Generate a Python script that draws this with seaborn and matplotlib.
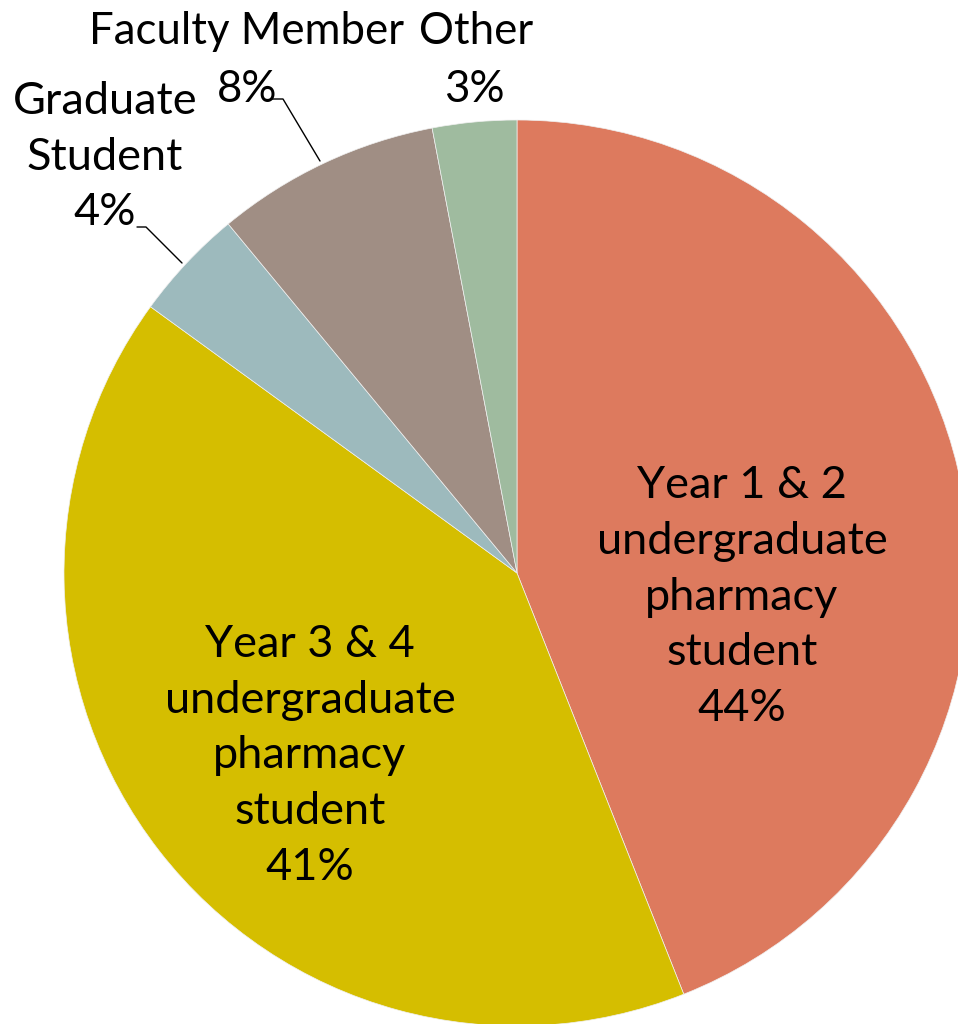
import numpy as np
import seaborn as sns
import matplotlib
matplotlib.use("Agg")
from matplotlib import pyplot as plt

# ---------------- data ----------------
groups = ["Year 1 & 2\nundergraduate\npharmacy\nstudent",
          "Year 3 & 4\nundergraduate\npharmacy\nstudent",
          "Graduate\nStudent",
          "Faculty Member",
          "Other"]
shares = [44, 41, 4, 8, 3]
colors = ["#DD7A5E", "#D5BE00", "#9DBABD", "#A08E84", "#9FBB9F"]

sns.set_theme(style="white")
plt.rcParams['font.family'] = ['Lato', 'DejaVu Sans']

W, H = 958, 1024
fig = plt.figure(figsize=(W / 100, H / 100), dpi=100)
ax = fig.add_axes([0, 0, 1, 1])

def py(y):
    # pixel row (from top) -> data y
    return H - y

cx, cy, r = 517, py(573), 453
ax.pie(shares, colors=colors, startangle=90, counterclock=False,
       center=(cx, cy), radius=r,
       wedgeprops=dict(linewidth=0.5, edgecolor="#f0f0f0"))
ax.set_xlim(0, W)
ax.set_ylim(0, H)
ax.set_aspect("equal")
ax.axis("off")

fs = 32.5
ls = 1.45
lbl = [f"{g}\n{s}%" for g, s in zip(groups, shares)]
kw = dict(ha="center", va="center", fontsize=fs, linespacing=ls, color="black")
ax.text(742, py(597), lbl[0], **kw)
ax.text(310, py(756), lbl[1], **kw)
ax.text(105, py(157), lbl[2], **kw)

# top labels: name and share as separate lines
kw_top = dict(kw, fontsize=31.5)
ax.text(247, py(31), groups[3], **kw_top)
ax.text(247, py(89), f"{shares[3]}%", **kw_top)
ax.text(476, py(31), groups[4], **kw_top)
ax.text(474, py(89), f"{shares[4]}%", **kw_top)

# leader lines
ax.plot([272, 283, 320], [py(99), py(99), py(161)], color="black", lw=1)
ax.plot([137, 146, 182], [py(227), py(227), py(263)], color="black", lw=1)

fig.savefig("out.png", dpi=100, facecolor="white")
